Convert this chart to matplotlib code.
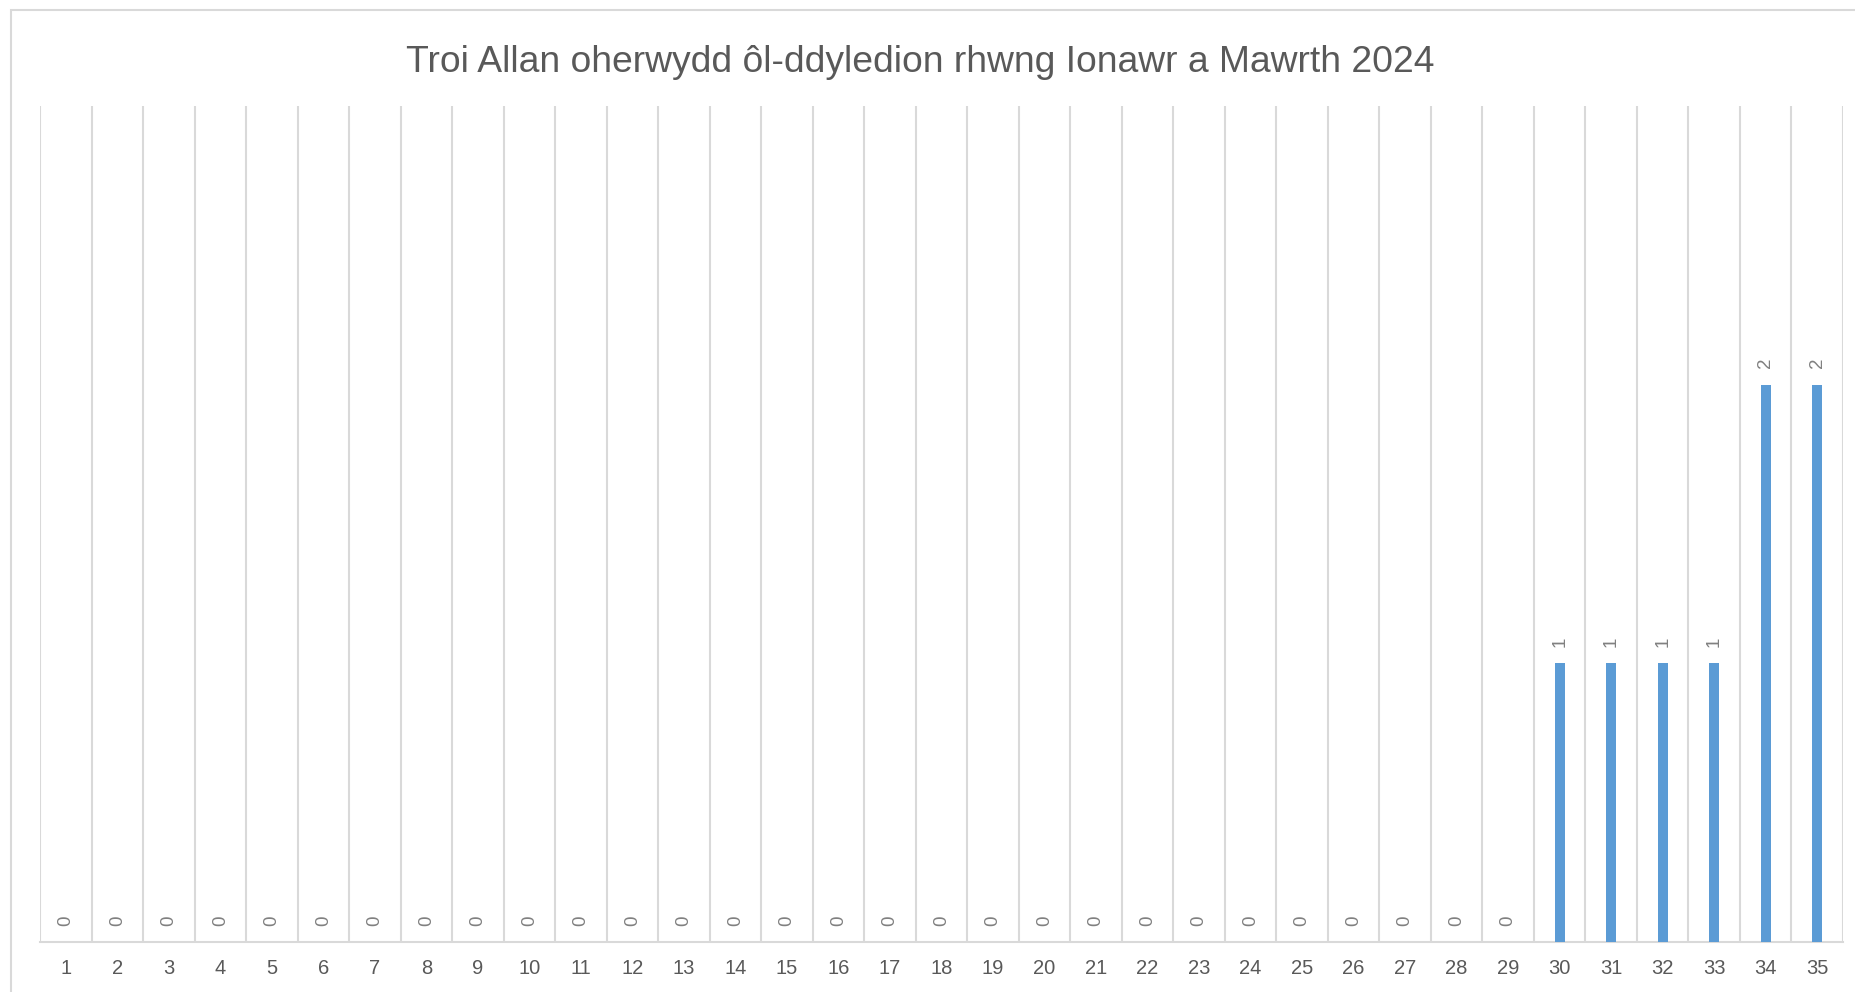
import matplotlib
matplotlib.use('Agg')
import matplotlib.pyplot as plt
from matplotlib.patches import Rectangle

# data
categories = list(range(1, 36))
values = [0] * 29 + [1, 1, 1, 1, 2, 2]
title = 'Troi Allan oherwydd ôl-ddyledion rhwng Ionawr a Mawrth 2024'

plt.rcParams['font.family'] = ['Liberation Sans', 'DejaVu Sans']

W, H = 1856, 992
fig = plt.figure(figsize=(W / 100, H / 100), dpi=100)

# light grey chart frame (right and bottom run off the picture)
fig.patches.append(Rectangle((11 / W, -0.1), 1.2, 1.1 - 10 / H,
                             transform=fig.transFigure, fill=False,
                             edgecolor='#d9d9d9', linewidth=1.5))

ax = fig.add_axes([40 / W, 1 - 942 / H, (1843 - 40) / W, (942 - 106) / H])

ax.bar(categories, values, width=0.19, color='#5b9bd5', zorder=3)

# data labels, rotated
for x, v in zip(categories, values):
    ax.annotate(str(v), (x, v), xytext=(0, 15.5), textcoords='offset points',
                ha='center', va='center', rotation=90, fontsize=13.5,
                color='#808080')

ax.set_xlim(0.5, 35.5)
ax.set_ylim(0, 3)
ax.set_yticks([])
ax.set_xticks(categories)
ax.set_xticklabels([str(c) for c in categories], fontsize=14.5, color='#595959')
ax.set_xticks([c + 0.5 for c in [0] + categories], minor=True)
ax.tick_params(axis='x', which='both', length=0, pad=12.5)
ax.grid(which='minor', axis='x', color='#d9d9d9', linewidth=1.5, zorder=0)

for s in ['top', 'left', 'right']:
    ax.spines[s].set_visible(False)
ax.spines['bottom'].set_color('#d9d9d9')
ax.spines['bottom'].set_linewidth(1.5)

fig.text(920 / W, 1 - 72 / H, title, ha='center', va='baseline',
         fontsize=26.8, color='#595959')

fig.savefig('out.png', dpi=100)
